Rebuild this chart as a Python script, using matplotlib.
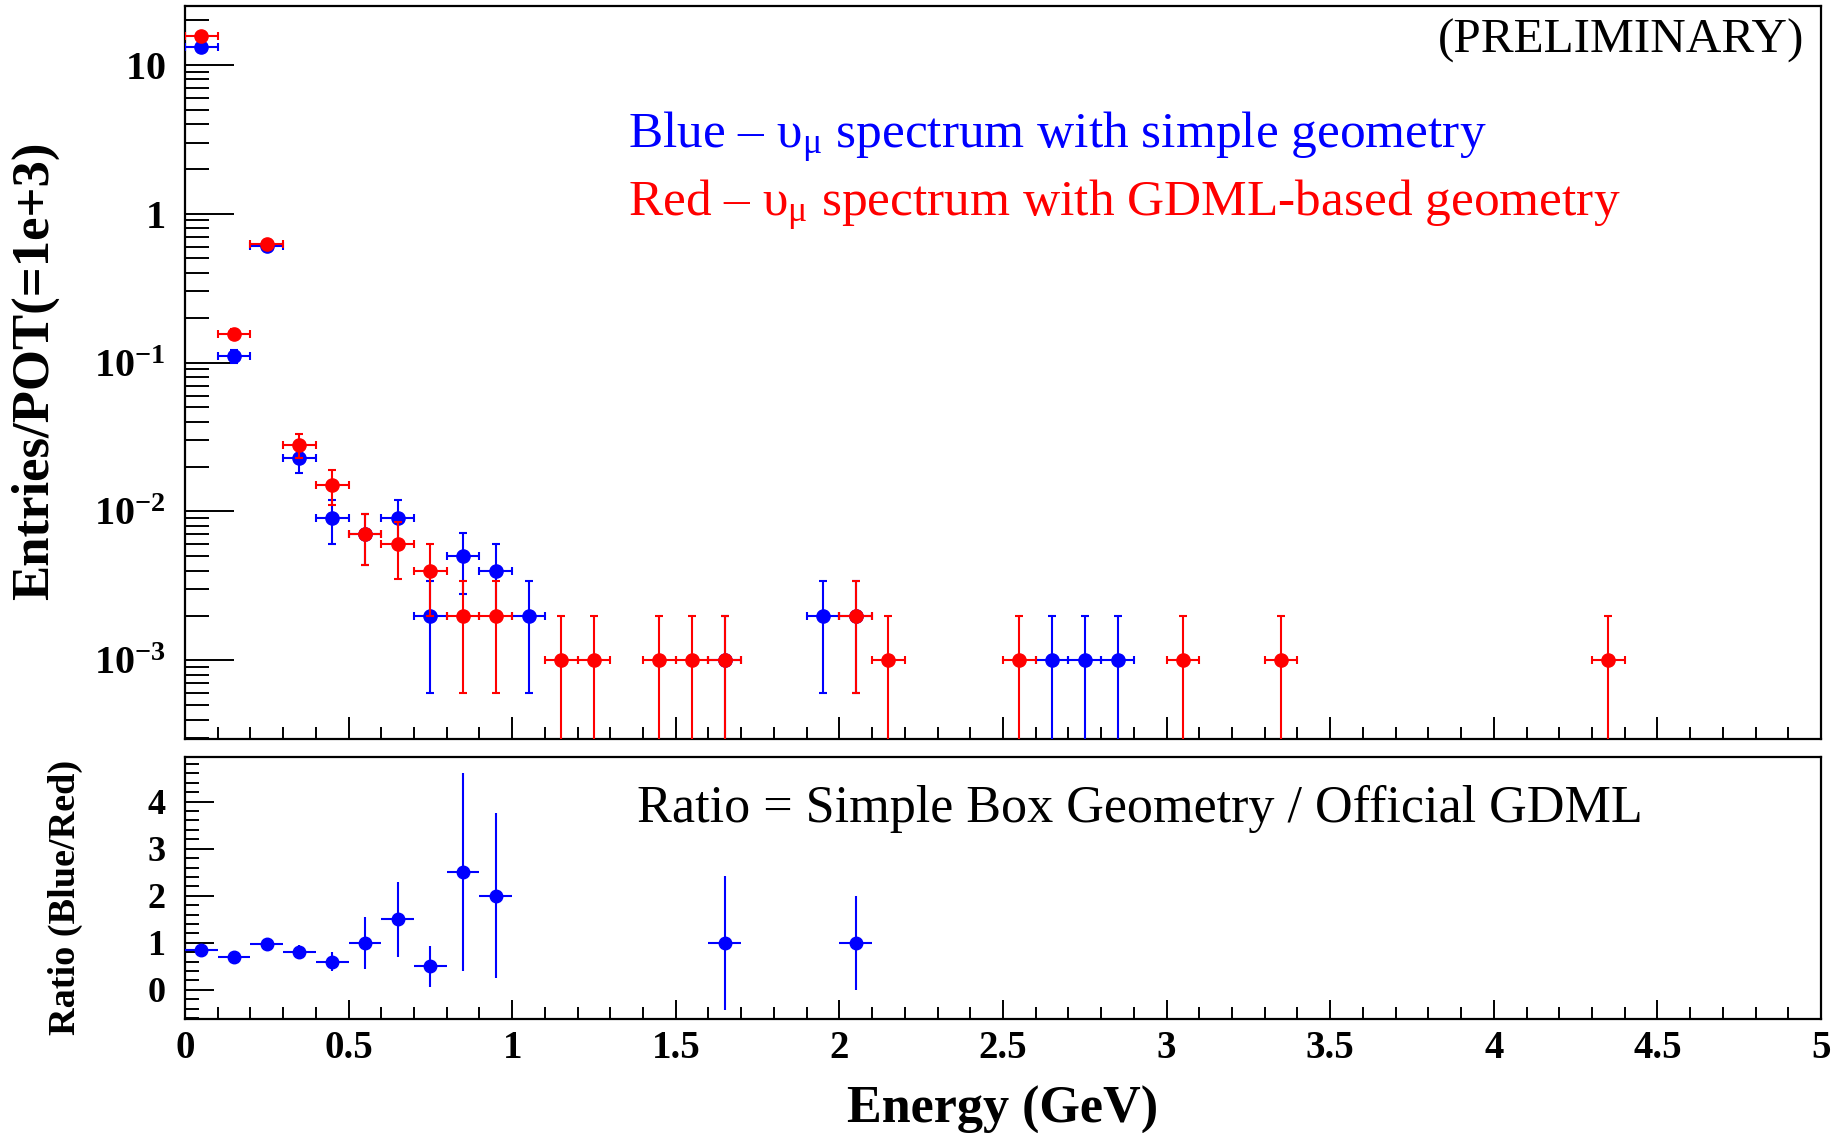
import numpy as np
import matplotlib
matplotlib.use("Agg")
import matplotlib.pyplot as plt
from matplotlib.ticker import MultipleLocator, LogLocator, FixedLocator, NullFormatter

plt.rcParams['mathtext.fontset'] = 'custom'
plt.rcParams['mathtext.rm'] = 'Liberation Serif'
plt.rcParams['mathtext.bf'] = 'Liberation Serif:bold'
plt.rcParams['mathtext.it'] = 'Liberation Serif:italic'
plt.rcParams['font.family'] = ['Liberation Serif', 'DejaVu Serif']

# ---- data ----
blue_x = [0.05, 0.15, 0.25, 0.35, 0.45, 0.55, 0.65, 0.75, 0.85, 0.95, 1.05, 1.65, 1.95, 2.05, 2.65, 2.75, 2.85]
blue_y = [13.1, 0.111, 0.61, 0.023, 0.009, 0.007, 0.009, 0.002, 0.005, 0.004, 0.002, 0.001, 0.002, 0.002, 0.001, 0.001, 0.001]
blue_err = [0.11, 0.011, 0.025, 0.0048, 0.003, 0.0026, 0.003, 0.0014, 0.0022, 0.002, 0.0014, 0.001, 0.0014, 0.0014, 0.001, 0.001, 0.001]

red_x = [0.05, 0.15, 0.25, 0.35, 0.45, 0.55, 0.65, 0.75, 0.85, 0.95, 1.15, 1.25, 1.45, 1.55, 1.65, 2.05, 2.15, 2.55, 3.05, 3.35, 4.35]
red_y = [15.5, 0.155, 0.63, 0.028, 0.015, 0.007, 0.006, 0.004, 0.002, 0.002, 0.001, 0.001, 0.001, 0.001, 0.001, 0.002, 0.001, 0.001, 0.001, 0.001, 0.001]
red_err = [0.12, 0.012, 0.025, 0.0053, 0.0039, 0.0026, 0.0025, 0.002, 0.0014, 0.0014, 0.001, 0.001, 0.001, 0.001, 0.001, 0.0014, 0.001, 0.001, 0.001, 0.001, 0.001]

ratio_x = [0.05, 0.15, 0.25, 0.35, 0.45, 0.55, 0.65, 0.75, 0.85, 0.95, 1.65, 2.05]
ratio_y = [0.85, 0.70, 0.97, 0.80, 0.60, 1.00, 1.50, 0.50, 2.50, 2.00, 1.00, 1.00]
ratio_err = [0.08, 0.06, 0.07, 0.15, 0.20, 0.55, 0.80, 0.43, 2.10, 1.75, 1.43, 1.00]

xtick_labels = ['0', '0.5', '1', '1.5', '2', '2.5', '3', '3.5', '4', '4.5', '5']
ratio_ytick_labels = ['0', '1', '2', '3', '4']

bin_half = 0.05

fig = plt.figure(figsize=(18.4, 11.33), dpi=100)
ax1 = fig.add_axes([0.1005, 0.3477, 0.8892, 0.6470])
ax2 = fig.add_axes([0.1005, 0.1006, 0.8892, 0.2313])

for ax in (ax1, ax2):
    for s in ax.spines.values():
        s.set_linewidth(1.6)

# top panel
ax1.errorbar(blue_x, blue_y, xerr=bin_half, yerr=blue_err, fmt='o', color='blue',
             ms=9.5, elinewidth=1.5, capsize=3, capthick=1.5, zorder=3)
ax1.errorbar(red_x, red_y, xerr=bin_half, yerr=red_err, fmt='o', color='red',
             ms=9.5, elinewidth=1.5, capsize=3, capthick=1.5, zorder=4)
ax1.set_yscale('log')
ax1.set_ylim(2.96e-4, 24.8)
ax1.set_xlim(0, 5)
ax1.yaxis.set_major_locator(FixedLocator([1e-3, 1e-2, 1e-1, 1, 10]))
ax1.yaxis.set_minor_locator(LogLocator(base=10, subs=np.arange(2, 10)))
ax1.yaxis.set_minor_formatter(NullFormatter())
ax1.set_yticklabels([r'$\mathbf{10^{-3}}$', r'$\mathbf{10^{-2}}$', r'$\mathbf{10^{-1}}$',
                     r'$\mathbf{1}$', r'$\mathbf{10}$'])
ax1.xaxis.set_major_locator(MultipleLocator(0.5))
ax1.xaxis.set_minor_locator(MultipleLocator(0.1))
ax1.tick_params(axis='x', which='both', labelbottom=False)
ax1.tick_params(which='both', direction='in', top=False, right=False, width=1.4)
ax1.tick_params(axis='y', which='major', length=35, labelsize=29, pad=14)
ax1.tick_params(axis='y', which='minor', length=17)
ax1.tick_params(axis='x', which='major', length=16)
ax1.tick_params(axis='x', which='minor', length=9)

ax1.text(0.990, 0.937, '(PRELIMINARY)', transform=ax1.transAxes, ha='right', va='baseline',
         fontsize=35.5, color='black')
ax1.text(0.2708, 0.8063, 'Blue – υ$_{\\mathrm{μ}}$ spectrum with simple geometry',
         transform=ax1.transAxes, ha='left', va='baseline', fontsize=37, color='blue')
ax1.text(0.2708, 0.7135, 'Red – υ$_{\\mathrm{μ}}$ spectrum with GDML-based geometry',
         transform=ax1.transAxes, ha='left', va='baseline', fontsize=37, color='red')

# lower panel
ax2.errorbar(ratio_x, ratio_y, xerr=bin_half, yerr=ratio_err, fmt='o', color='blue',
             ms=9, elinewidth=1.5, capsize=0, zorder=3)
ax2.set_xlim(0, 5)
ax2.set_ylim(-0.62, 4.95)
ax2.yaxis.set_major_locator(MultipleLocator(1))
ax2.yaxis.set_minor_locator(MultipleLocator(0.2))
ax2.xaxis.set_major_locator(MultipleLocator(0.5))
ax2.xaxis.set_minor_locator(MultipleLocator(0.1))
ax2.tick_params(which='both', direction='in', top=False, right=False, width=1.4)
ax2.tick_params(axis='y', which='major', length=21, labelsize=26, pad=14)
ax2.tick_params(axis='y', which='minor', length=10)
ax2.tick_params(axis='x', which='major', length=14, labelsize=28, pad=8)
ax2.tick_params(axis='x', which='minor', length=9)
ax2.set_xticks([0, 0.5, 1, 1.5, 2, 2.5, 3, 3.5, 4, 4.5, 5])
ax2.set_xticklabels(xtick_labels, fontweight='bold')
ax2.set_yticks([0, 1, 2, 3, 4])
ax2.set_yticklabels(ratio_ytick_labels, fontweight='bold')

ax2.text(0.2763, 0.752, 'Ratio = Simple Box Geometry / Official GDML', transform=ax2.transAxes,
         ha='left', va='baseline', fontsize=37.5, color='black')

fig.text(0.019, 0.673, 'Entries/POT(=1e+3)', rotation=90, ha='center', va='center',
         fontsize=38, fontweight='bold')
fig.text(0.0355, 0.2076, 'Ratio (Blue/Red)', rotation=90, ha='center', va='center',
         fontsize=27.5, fontweight='bold')
fig.text(0.5446, 0.0088, 'Energy (GeV)', ha='center', va='baseline', fontsize=37.5, fontweight='bold')

fig.savefig('out.png', dpi=100)
